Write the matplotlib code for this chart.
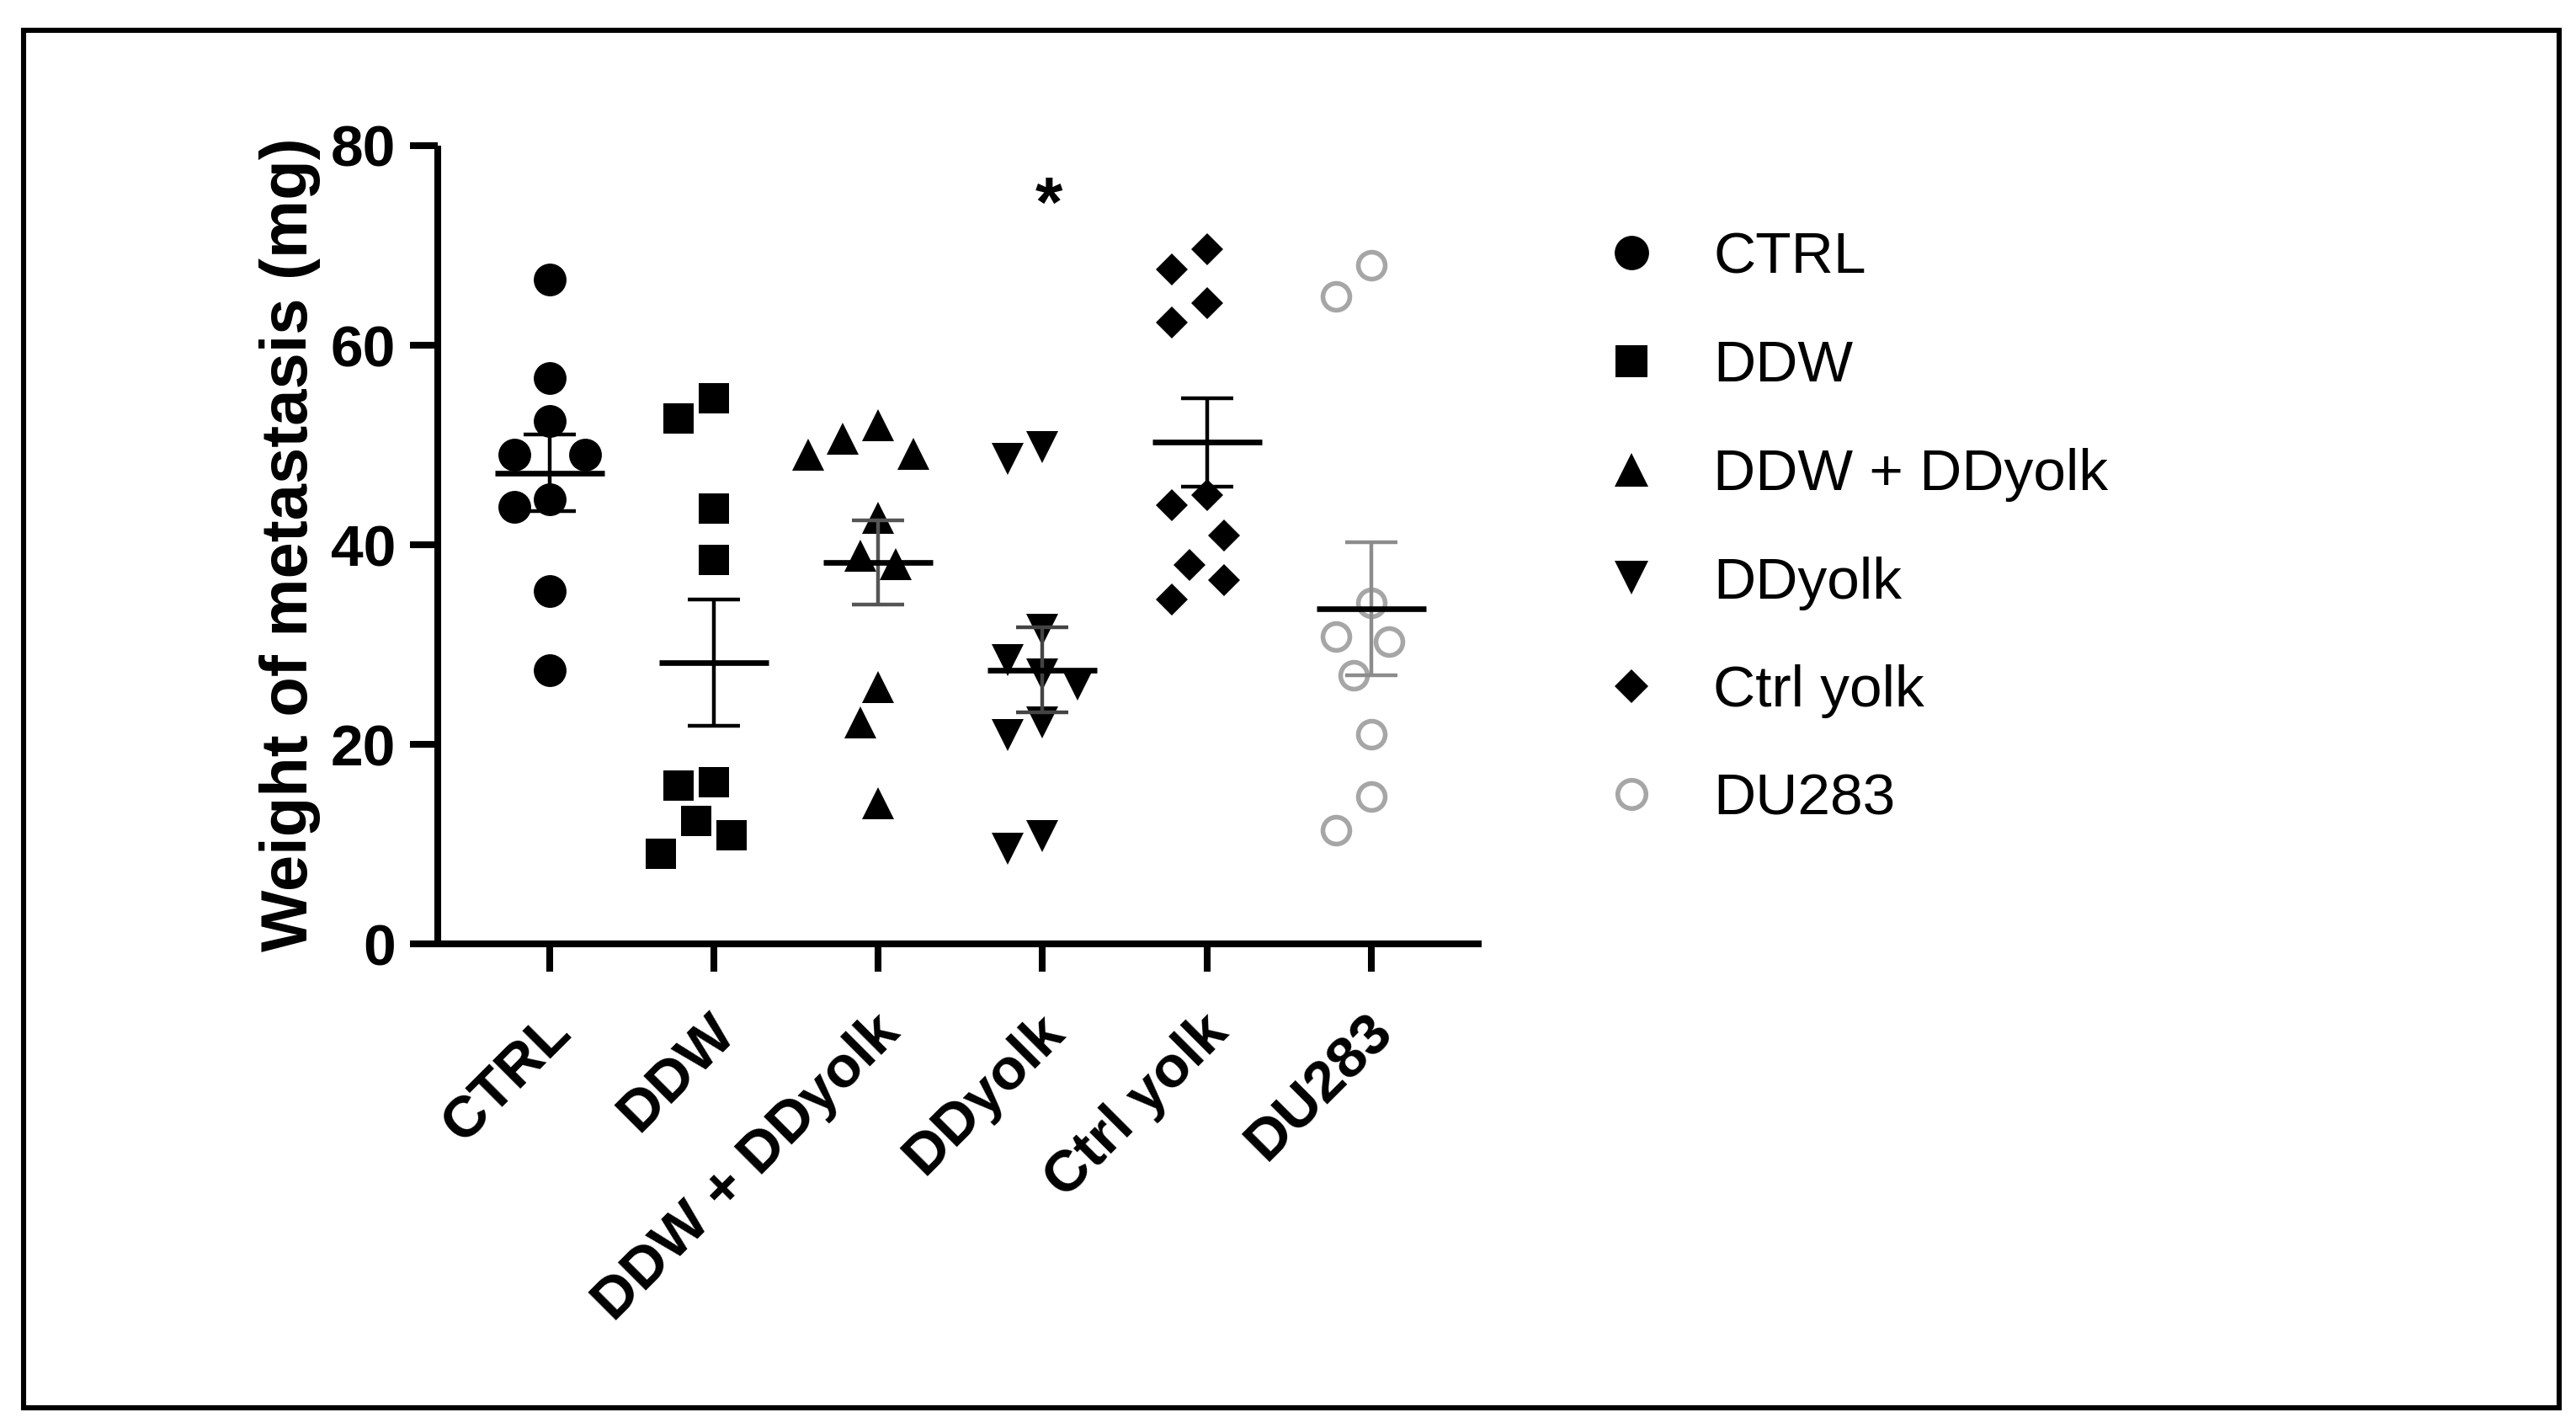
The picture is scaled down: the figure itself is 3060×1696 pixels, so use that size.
import numpy as np
import matplotlib
matplotlib.use('Agg')
import matplotlib.pyplot as plt
import matplotlib.transforms as mtransforms
from matplotlib.lines import Line2D
from matplotlib.patches import Rectangle

# ---------------- data ----------------
categories = ['CTRL', 'DDW', 'DDW + DDyolk', 'DDyolk', 'Ctrl yolk', 'DU283']
ctrl = [66.6, 56.7, 52.4, 49.0, 49.0, 44.6, 43.8, 35.4, 27.4]
ddw = [54.7, 52.7, 43.6, 38.5, 16.2, 15.9, 12.3, 10.9, 9.0]
ddw_ddyolk = [52.0, 50.6, 49.1, 49.0, 42.7, 38.9, 38.1, 25.7, 22.2, 14.1]
ddyolk = [49.8, 48.6, 31.5, 28.4, 27.0, 26.0, 22.2, 20.9, 10.8, 9.5]
ctrl_yolk = [69.6, 67.6, 64.2, 62.3, 45.0, 44.0, 40.9, 38.0, 36.5, 34.5]
du283 = [68.0, 64.9, 34.2, 30.8, 30.3, 26.9, 21.0, 14.8, 11.4]
yticks = [0, 20, 40, 60, 80]
y_label = 'Weight of metastasis (mg)'
star_label = '*'
star_group = 'DDyolk'
star_value = 73.8

series = [ctrl, ddw, ddw_ddyolk, ddyolk, ctrl_yolk, du283]

# ---------------- styles ----------------
styles = [
    dict(marker='o', ms=14, mfc='black', mec='black', mew=0),
    dict(marker='s', ms=13, mfc='black', mec='black', mew=0),
    dict(marker='^', ms=13.5, mfc='black', mec='black', mew=0),
    dict(marker='v', ms=13.5, mfc='black', mec='black', mew=0),
    dict(marker='D', ms=9.5, mfc='black', mec='black', mew=0),
    dict(marker='o', ms=11.5, mfc='white', mec='#a6a6a6', mew=2.0),
]
err_colors = ['black', 'black', '#555555', '#444444', 'black', '#8c8c8c']

plt.rcParams['font.family'] = ['Liberation Sans', 'DejaVu Sans']

fig = plt.figure(figsize=(15.3, 8.48), dpi=200)
ax = fig.add_axes([0.170, 0.339, 0.405, 0.559])
ax.set_xlim(-0.68, 5.67)
ax.set_ylim(0, 80)

LW = 2.9
for s in ['top', 'right']:
    ax.spines[s].set_visible(False)
for s in ['left', 'bottom']:
    ax.spines[s].set_linewidth(LW)
    ax.spines[s].set_capstyle('butt')
ax.tick_params(axis='both', direction='out', length=12, width=LW, labelsize=25, pad=6)
ax.set_yticks(yticks)
ax.set_yticklabels([str(t) for t in yticks], fontweight='bold')
ax.set_xticks(range(len(categories)))
ax.set_xticklabels(categories, rotation=45, ha='right', va='center',
                   rotation_mode='anchor', fontweight='bold', fontsize=25)
ax.tick_params(axis='x', pad=22)
shift = mtransforms.ScaledTranslation(5.5 / 72, 0, fig.dpi_scale_trans)
for lab in ax.get_xticklabels():
    lab.set_transform(lab.get_transform() + shift)

ax.set_ylabel(y_label, fontsize=28, fontweight='bold', va='center')
ax.yaxis.set_label_coords(-0.142, 0.5)


def swarm_offsets(values, xc, diam_px, vfac, step_frac):
    trans = ax.transData
    ys = [trans.transform((xc, v))[1] for v in values]
    px_per_unit = trans.transform((1, 0))[0] - trans.transform((0, 0))[0]
    placed = []
    offs = [0.0] * len(values)
    order = np.argsort(values)[::-1]
    step = diam_px * step_frac
    cands = [0]
    for k in range(1, 30):
        cands += [-k, k]
    for i in order:
        y = ys[i]
        x = 0.0
        for k in cands:
            x = k * step
            ok = True
            for (qx, qy) in placed:
                if (x - qx) ** 2 + ((y - qy) / vfac) ** 2 < diam_px ** 2:
                    ok = False
                    break
            if ok:
                break
        placed.append((x, y))
        offs[i] = x / px_per_unit
    return offs


handles = []
for gi, (vals, st) in enumerate(zip(series, styles)):
    vals = np.asarray(vals, dtype=float)
    offs = swarm_offsets(vals, gi, 38, 1.3, 0.55)
    xs = gi + np.asarray(offs)
    ax.plot(xs, vals, linestyle='none', zorder=3, clip_on=False, **st)
    mean = vals.mean()
    sem = vals.std(ddof=1) / np.sqrt(len(vals))
    ax.errorbar([gi], [mean], yerr=[sem], fmt='none', ecolor=err_colors[gi],
                elinewidth=1.6, capsize=11, capthick=1.6, zorder=4)
    ax.hlines(mean, gi - 0.333, gi + 0.333, color='black', linewidth=2.4, zorder=5)
    handles.append(Line2D([], [], linestyle='none', **st))

ax.text(categories.index(star_group) + 0.04, star_value, star_label, ha='center', va='center',
        fontsize=30, fontweight='bold')

leg = fig.legend(handles, categories, loc='upper left', bbox_to_anchor=(0.622, 0.838),
                 frameon=False, fontsize=25, markerscale=1.05, handlelength=1.0,
                 handletextpad=0.9, labelspacing=0.93, borderpad=0, borderaxespad=0)

fig.patches.append(Rectangle((0.009, 0.014), 0.9846, 0.965, transform=fig.transFigure,
                             fill=False, edgecolor='black', linewidth=2.2))

fig.savefig('out.png', dpi=200, facecolor='white')
